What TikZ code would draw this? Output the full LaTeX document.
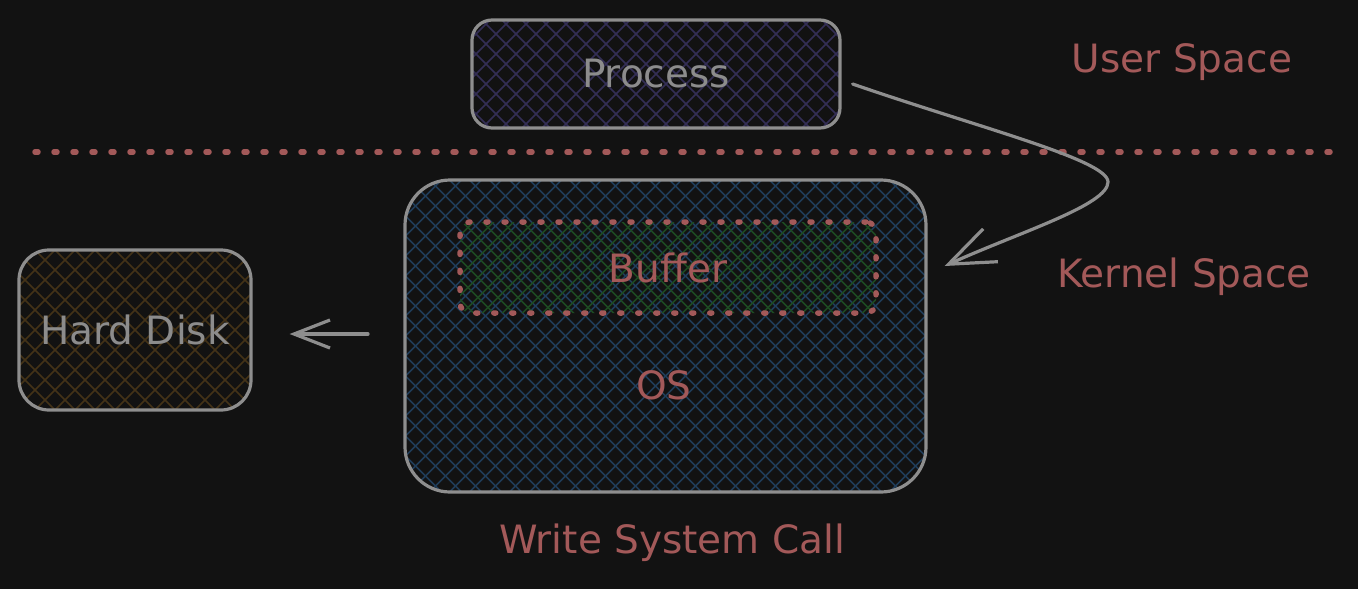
\documentclass[tikz,border=0pt]{standalone}
\usepackage{fontspec}
\setmainfont{DejaVu Sans}
\usetikzlibrary{arrows.meta,calc}
\definecolor{bg}{HTML}{121212}
\definecolor{stroke}{HTML}{8E8E8E}
\definecolor{tgray}{HTML}{8C8C8C}
\definecolor{tred}{HTML}{A35959}
\definecolor{hpurple}{HTML}{332E55}
\definecolor{hblue}{HTML}{1F3C58}
\definecolor{hgreen}{HTML}{1D4A22}
\definecolor{hbrown}{HTML}{433217}
\tikzset{
  hatch/.style={path picture={
    \foreach \i in {-700,-680,...,700}{
      \draw[#1,solid,line cap=butt,line width=1.6pt] ($(path picture bounding box.center)+(\i,0)+(-400,-400)$) -- ++(800,800);
      \draw[#1,solid,line cap=butt,line width=1.6pt] ($(path picture bounding box.center)+(\i,0)+(-400,400)$) -- ++(800,-800);
    }}},
  box/.style={draw=stroke, line width=3.2pt, inner sep=0pt},
  lbl/.style={font=\fontsize{39}{44}\selectfont, inner sep=0pt},
  dotline/.style={draw=tred, line width=5.5pt, dash pattern=on 3pt off 16pt, line cap=round},
  conn/.style={draw=stroke, line width=3.2pt, line cap=round},
}
\begin{document}
\begin{tikzpicture}[x=1pt,y=-1pt]
\fill[bg] (0,0) rectangle (1358,589);
\useasboundingbox (0,0) rectangle (1358,589);

% separator
\coordinate (sepL) at (35,152);
\coordinate (sepR) at (1342,152);
\draw[dotline] (sepL) -- (sepR);

% boxes
\node[box, rounded corners=20pt, minimum width=368pt, minimum height=108pt,
      hatch=hpurple, text=tgray, lbl] (proc) at (656,74) {Process};
\node[box, rounded corners=45pt, minimum width=521pt, minimum height=312pt,
      hatch=hblue] (os) at (665.5,336) {};
\node[dotline, rounded corners=10pt, minimum width=416pt, minimum height=91pt,
      hatch=hgreen, text=tred, lbl, dash pattern=on 2pt off 16pt] (buf) at (668,267.5) {Buffer};
\node[box, rounded corners=30pt, minimum width=232pt, minimum height=160pt,
      hatch=hbrown, text=tgray, lbl] (hdd) at (135,330) {Hard Disk};

% labels
\node[lbl, text=tred] (oslbl) at (664,385) {OS};
\node[lbl, text=tred] (user) at (1182,62) {User Space};
\node[lbl, text=tred] (kern) at (1184,277) {Kernel Space};
\node[lbl, text=tred] (call) at (672,543) {Write System Call};

% connectors
\coordinate (c1) at ($(proc.east)+(11,10)$);
\coordinate (c2) at (1108,182);
\coordinate (c3) at ($(os.east)+(17,-70)$);
\draw[conn, -{Straight Barb[length=46pt, width=36pt, line width=3.2pt]}]
  (c1) .. controls (980,128) and (1108,160) .. (c2)
       .. controls (1108,205) and (1020,232) .. (c3);

\coordinate (h1) at (368,334);
\coordinate (h2) at ($(hdd.east)+(37,4)$);
\draw[conn, -{Straight Barb[length=36pt, width=28pt, line width=3.2pt]}] (h1) -- (h2);
\end{tikzpicture}
\end{document}
